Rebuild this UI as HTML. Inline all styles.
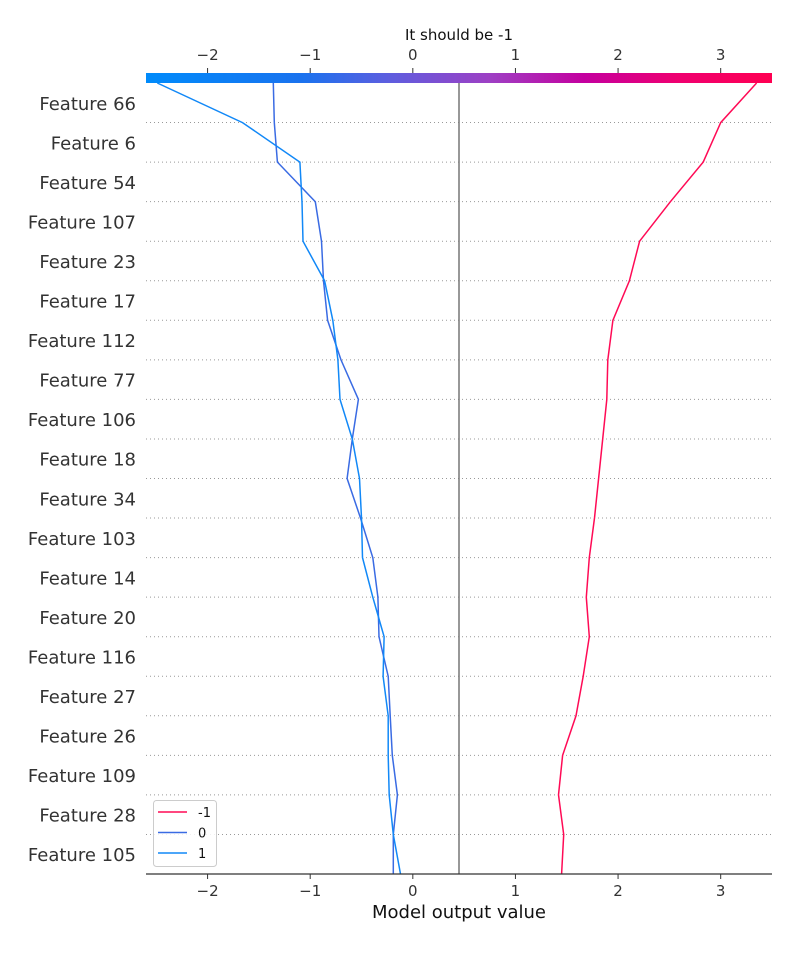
<!DOCTYPE html>
<html><head><meta charset="utf-8">
<style>
body{margin:0;background:#fff;}
svg text{font-family:"DejaVu Sans","Liberation Sans",sans-serif;}
</style></head>
<body>
<svg id="chart" width="800" height="950" xmlns="http://www.w3.org/2000/svg">
<defs>
<linearGradient id="cbar" x1="0" x2="1" y1="0" y2="0">
<stop offset="0" stop-color="#008bfb"/>
<stop offset="0.25" stop-color="#1a72ee"/>
<stop offset="0.38" stop-color="#5a5fe0"/>
<stop offset="0.55" stop-color="#9e3fc4"/>
<stop offset="0.7" stop-color="#c4009f"/>
<stop offset="0.85" stop-color="#ef0070"/>
<stop offset="1" stop-color="#ff0052"/>
</linearGradient>
</defs>
</svg>
<script>
const features = ["Feature 66","Feature 6","Feature 54","Feature 107","Feature 23","Feature 17","Feature 112","Feature 77","Feature 106","Feature 18","Feature 34","Feature 103","Feature 14","Feature 20","Feature 116","Feature 27","Feature 26","Feature 109","Feature 28","Feature 105"];
const xTicks = [-2,-1,0,1,2,3];
const baseValue = 0.45;
const seriesNames = ["-1","0","1"];
// values listed from bottom (base) to top (final output)
const seriesNeg1 = [1.45,1.47,1.42,1.46,1.59,1.66,1.72,1.69,1.72,1.77,1.81,1.85,1.89,1.90,1.95,2.11,2.21,2.51,2.83,3.00,3.35];
const series0 = [-0.19,-0.19,-0.15,-0.20,-0.22,-0.24,-0.33,-0.34,-0.39,-0.51,-0.64,-0.59,-0.53,-0.70,-0.83,-0.87,-0.89,-0.95,-1.32,-1.35,-1.36];
const series1 = [-0.12,-0.19,-0.23,-0.24,-0.24,-0.29,-0.28,-0.39,-0.49,-0.50,-0.52,-0.59,-0.71,-0.73,-0.78,-0.86,-1.07,-1.08,-1.10,-1.66,-2.49];
const seriesColors = ["#ff0a55","#3a6be3","#1188f7"];

const NS="http://www.w3.org/2000/svg";
const svg=document.getElementById('chart');
const L=146,R=772,T=83,B=874,xmin=-2.6,xmax=3.5;
const xs=v=>L+(v-xmin)/(xmax-xmin)*(R-L);
const step=(B-T)/features.length;
const yb=i=>B-i*step;
function mk(tag,attrs,parent){const e=document.createElementNS(NS,tag);for(const k in attrs)e.setAttribute(k,attrs[k]);(parent||svg).appendChild(e);return e;}

for(let i=1;i<features.length;i++){
  const g=mk('line',{x1:L,x2:R,y1:yb(i),y2:yb(i),stroke:'#999','stroke-width':1,'stroke-dasharray':'1,3'});
  
  
}
features.forEach((f,i)=>{
  const t=mk('text',{x:136,y:T+step*(i+0.5)+7,'text-anchor':'end','font-size':18,fill:'#333'});
  t.textContent=f;
  
  
});
const bl=mk('line',{x1:xs(baseValue),x2:xs(baseValue),y1:T,y2:B,stroke:'#777','stroke-width':1.5});



[seriesNeg1,series0,series1].forEach((s,k)=>{
  const pts=s.map((v,i)=>xs(v).toFixed(1)+','+yb(i).toFixed(1)).join(' ');
  const p=mk('polyline',{points:pts,fill:'none',stroke:seriesColors[k],'stroke-width':1.5});
  
  
});

const cb=mk('rect',{x:L,y:73,width:R-L,height:10,fill:'url(#cbar)'});



xTicks.forEach(v=>{
  const x=xs(v);
  const lab=(v<0?'\u2212'+Math.abs(v):''+v);
  mk('line',{x1:x,x2:x,y1:73,y2:68,stroke:'#333','stroke-width':1});
  const t1=mk('text',{x:x,y:60,'text-anchor':'middle','font-size':15,fill:'#333'});
  t1.textContent=lab;
  
  
  mk('line',{x1:x,x2:x,y1:B,y2:B+5,stroke:'#333','stroke-width':1});
  const t2=mk('text',{x:x,y:896,'text-anchor':'middle','font-size':15,fill:'#333'});
  t2.textContent=lab;
  
  
});
const ax=mk('line',{x1:L,x2:R,y1:B,y2:B,stroke:'#333','stroke-width':1.2});


const tt=mk('text',{x:459,y:40,'text-anchor':'middle','font-size':15,fill:'#111'});
tt.textContent='It should be -1';


const xl=mk('text',{x:459,y:918,'text-anchor':'middle','font-size':18,fill:'#111'});
xl.textContent='Model output value';



const lg=mk('g',{});


mk('rect',{x:153.5,y:800.5,width:63,height:66,rx:3,fill:'#fff','fill-opacity':0.85,stroke:'#ccc'},lg);
seriesNames.forEach((n,k)=>{
  const y=812+k*20.5;
  const e=mk('g',{},lg);
  
  
  mk('line',{x1:158,x2:187,y1:y,y2:y,stroke:seriesColors[k],'stroke-width':1.5},e);
  const t=mk('text',{x:198,y:y+5,'font-size':13,fill:'#111'},e);
  t.textContent=n;
});
</script>
</body></html>
